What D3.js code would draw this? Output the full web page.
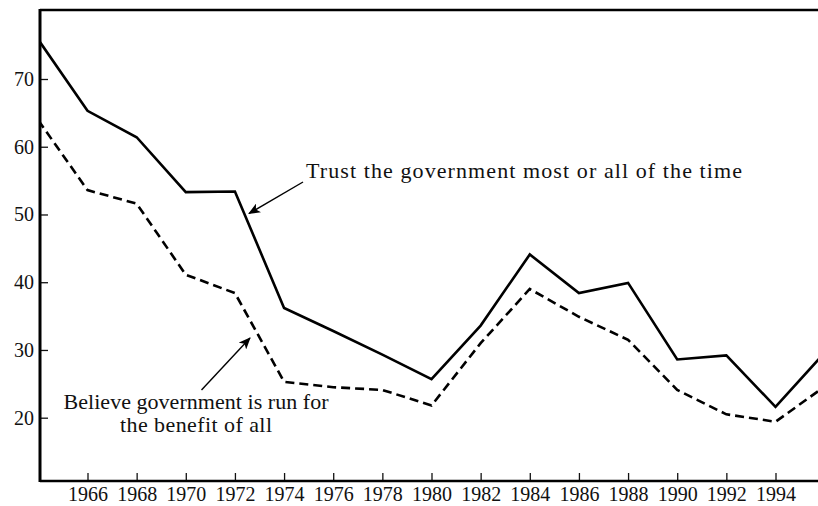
<!DOCTYPE html>
<html>
<head>
<meta charset="utf-8">
<script src="https://cdn.jsdelivr.net/npm/d3@7"></script>
<style>
  body { margin: 0; background: #fff; }
  text { font-family: "Liberation Serif", "DejaVu Serif", serif; fill: #111; }
</style>
</head>
<body>
<div id="chart"></div>
<script>
const width = 818;
const height = 506;

// survey years and the two series (percent)
const years = [1964, 1966, 1968, 1970, 1972, 1974, 1976, 1978, 1980, 1982, 1984, 1986, 1988, 1990, 1992, 1994, 1996];
const trustGov = [75.8, 65.3, 61.4, 53.3, 53.4, 36.2, 32.8, 29.3, 25.7, 33.6, 44.1, 38.4, 39.9, 28.6, 29.2, 21.6, 29.6];
const benefitAll = [63.9, 53.6, 51.6, 41.1, 38.4, 25.3, 24.5, 24.1, 21.8, 31.0, 39.0, 34.9, 31.5, 24.1, 20.5, 19.4, 24.6];

const xTicks = [1966, 1968, 1970, 1972, 1974, 1976, 1978, 1980, 1982, 1984, 1986, 1988, 1990, 1992, 1994];
const yTicks = [20, 30, 40, 50, 60, 70];

const labelTrust = "Trust the government most or all of the time";
const labelBenefit = ["Believe government is run for", "the benefit of all"];

const frame = { left: 40, top: 10, bottom: 481, right: width };

const svg = d3.select("#chart")
  .append("svg")
  .attr("width", width)
  .attr("height", height);

const x = d3.scaleLinear()
  .domain([1966, 1994])
  .range([87.5, 775.5]);

const y = d3.scaleLinear()
  .domain([20, 70])
  .range([417.7, 79]);

// clip lines to the plot frame
svg.append("clipPath").attr("id", "plot")
  .append("rect")
  .attr("x", frame.left).attr("y", frame.top)
  .attr("width", frame.right - frame.left).attr("height", frame.bottom - frame.top);

// axes
const xAxis = d3.axisBottom(x)
  .tickValues(xTicks)
  .tickFormat(d3.format("d"))
  .tickSize(-8)
  .tickPadding(6);

const yAxis = d3.axisLeft(y)
  .tickValues(yTicks)
  .tickSize(-8)
  .tickPadding(6);

const gx = svg.append("g")
  .attr("transform", `translate(0,${frame.bottom})`)
  .call(xAxis);

const gy = svg.append("g")
  .attr("transform", `translate(${frame.left},0)`)
  .call(yAxis);

[gx, gy].forEach(g => {
  g.select(".domain").remove();
  g.selectAll(".tick line").attr("stroke", "#111").attr("stroke-width", 1.3);
  g.selectAll(".tick text")
    .attr("fill", "#111")
    .style("font-family", '"Liberation Serif", serif')
    .style("font-size", "20px");
});

// frame lines: left, top, bottom
svg.append("line")
  .attr("x1", frame.left).attr("x2", frame.left)
  .attr("y1", frame.top - 1).attr("y2", frame.bottom + 1)
  .attr("stroke", "#000").attr("stroke-width", 3);
svg.append("line")
  .attr("x1", frame.left).attr("x2", frame.right)
  .attr("y1", frame.top).attr("y2", frame.top)
  .attr("stroke", "#000").attr("stroke-width", 2.5);
svg.append("line")
  .attr("x1", frame.left).attr("x2", frame.right)
  .attr("y1", frame.bottom).attr("y2", frame.bottom)
  .attr("stroke", "#000").attr("stroke-width", 2.5);

// series lines
const line = d3.line()
  .x((d, i) => x(years[i]))
  .y(d => y(d));

const lines = svg.append("g").attr("clip-path", "url(#plot)");

lines.append("path")
  .datum(trustGov)
  .attr("d", line)
  .attr("fill", "none")
  .attr("stroke", "#000")
  .attr("stroke-width", 2.6)
  .attr("stroke-linejoin", "miter");

lines.append("path")
  .datum(benefitAll)
  .attr("d", line)
  .attr("fill", "none")
  .attr("stroke", "#000")
  .attr("stroke-width", 2.6)
  .attr("stroke-dasharray", "9,5");

// arrowhead
svg.append("defs").append("marker")
  .attr("id", "arrow")
  .attr("viewBox", "0 0 12 10")
  .attr("refX", 11).attr("refY", 5)
  .attr("markerWidth", 12).attr("markerHeight", 10)
  .attr("markerUnits", "userSpaceOnUse")
  .attr("orient", "auto")
  .append("path")
  .attr("d", "M0,0 L12,5 L0,10 L3,5 Z")
  .attr("fill", "#000");

// annotation: trust
svg.append("line")
  .attr("x1", 303).attr("y1", 182)
  .attr("x2", 249).attr("y2", 213.5)
  .attr("stroke", "#000").attr("stroke-width", 1.4)
  .attr("marker-end", "url(#arrow)");

svg.append("text")
  .attr("x", 306).attr("y", 178)
  .attr("textLength", 436)
  .attr("lengthAdjust", "spacing")
  .style("font-size", "22px")
  .text(labelTrust);

// annotation: benefit
svg.append("line")
  .attr("x1", 201.5).attr("y1", 390)
  .attr("x2", 250).attr("y2", 338)
  .attr("stroke", "#000").attr("stroke-width", 1.4)
  .attr("marker-end", "url(#arrow)");

const benefitWidths = [265, 152];
svg.append("g")
  .selectAll("text")
  .data(labelBenefit)
  .join("text")
  .attr("text-anchor", "middle")
  .attr("x", 196)
  .attr("y", (d, i) => 409 + i * 23)
  .attr("textLength", (d, i) => benefitWidths[i])
  .attr("lengthAdjust", "spacing")
  .style("font-size", "22px")
  .text(d => d);
</script>
</body>
</html>
